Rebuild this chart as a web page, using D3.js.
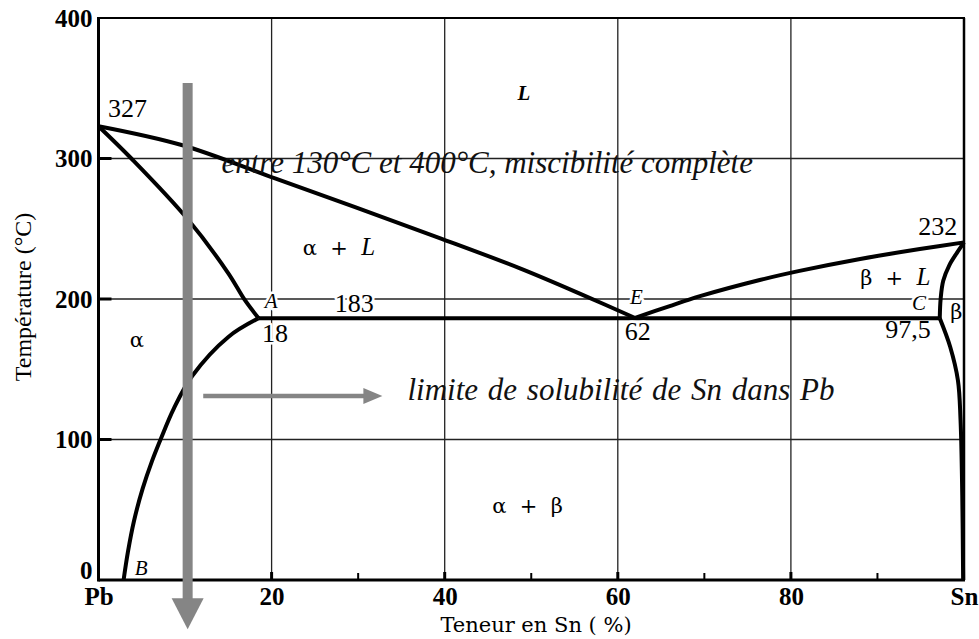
<!DOCTYPE html>
<html>
<head>
<meta charset="utf-8">
<script src="https://cdn.jsdelivr.net/npm/d3@7"></script>
<style>
  body { margin: 0; background: #fff; }
  svg { display: block; }
  .tick-lbl { font-family: "Liberation Serif", serif; font-size: 25px; font-weight: bold; fill: #000; }
  .num { font-family: "Liberation Serif", serif; font-size: 26px; fill: #000; }
  .pt { font-family: "Liberation Serif", serif; font-style: italic; font-size: 21px; fill: #000; }
  .phase { font-family: "DejaVu Serif", serif; font-size: 21px; fill: #000; }
  .it { font-family: "Liberation Serif", serif; font-style: italic; font-size: 25px; }
  .note { font-family: "Liberation Serif", serif; font-style: italic; font-size: 31px; fill: #111; }
  .halo { stroke: #fff; stroke-width: 5px; paint-order: stroke; stroke-linejoin: round; }
</style>
</head>
<body>
<svg id="chart" width="979" height="639"></svg>
<script>
// axes / ticks
const xTickValues = [0, 20, 40, 60, 80, 100];
const xTickLabels = ["Pb", "20", "40", "60", "80", "Sn"];
const xMinorTicks = [10, 30, 50, 70, 90];
const yTickValues = [0, 100, 200, 300, 400];
const gridX = [20, 40, 60, 80];
const gridY = [100, 200, 300];

// phase boundaries, [% Sn, °C] as drawn
const liquidusPb = [[0, 323], [9.6, 309.6], [20.4, 285.9], [39.5, 243.2], [48.7, 221.8], [56, 202.8], [62, 186.5]];
const liquidusSn = [[62, 186.5], [66, 195], [69.5, 202], [76.4, 213.5], [81, 220], [88, 228.5], [94.9, 235.6], [100, 240.3]];
const solidusAlpha = [[0, 323], [3.8, 300], [10.2, 257.6], [15, 218.3], [16.9, 199.3], [18.5, 186.3]];
const solvusAlpha = [[18.5, 186.3], [15, 173], [10.8, 145], [8.7, 122], [7.3, 102], [6.2, 85], [5.1, 65], [4.1, 42], [3.4, 20], [2.9, 0]];
const solidusBeta = [[100, 240.3], [99.2, 233], [98.3, 224], [97.6, 213], [97.3, 200], [97.2, 186.3]];
const solvusBeta = [[97.2, 186.3], [98.4, 166], [99.3, 142], [99.6, 114], [99.8, 60], [99.9, 0]];
const eutectic = [[18.5, 186.3], [97.2, 186.3]];

const svg = d3.select("#chart");
const x = d3.scaleLinear().domain([0, 100]).range([98.5, 964]);
const y = d3.scaleLinear().domain([0, 400]).range([580, 18]);

// grid
svg.append("g").selectAll("line").data(gridX).join("line")
  .attr("x1", d => x(d)).attr("x2", d => x(d)).attr("y1", y(400)).attr("y2", y(0))
  .attr("stroke", "#222").attr("stroke-width", 1.3);
svg.append("g").selectAll("line").data(gridY).join("line")
  .attr("x1", x(0)).attr("x2", x(100)).attr("y1", d => y(d)).attr("y2", d => y(d))
  .attr("stroke", "#222").attr("stroke-width", 1.3);

// tick stubs
svg.append("g").selectAll("line").data(yTickValues.slice(1, 4)).join("line")
  .attr("x1", x(0)).attr("x2", x(0) + 13).attr("y1", d => y(d)).attr("y2", d => y(d))
  .attr("stroke", "#000").attr("stroke-width", 3);
svg.append("g").selectAll("line").data(gridX).join("line")
  .attr("x1", d => x(d)).attr("x2", d => x(d)).attr("y1", y(0)).attr("y2", y(0) - 8)
  .attr("stroke", "#000").attr("stroke-width", 3);
svg.append("g").selectAll("line").data(xMinorTicks).join("line")
  .attr("x1", d => x(d)).attr("x2", d => x(d)).attr("y1", y(0)).attr("y2", y(0) - 7)
  .attr("stroke", "#000").attr("stroke-width", 2);

// frame
svg.append("line").attr("x1", x(0)).attr("x2", x(0)).attr("y1", y(400) - 1).attr("y2", y(0) + 1.5).attr("stroke", "#000").attr("stroke-width", 3);
svg.append("line").attr("x1", x(0)).attr("x2", x(100) + 1).attr("y1", y(0)).attr("y2", y(0)).attr("stroke", "#000").attr("stroke-width", 3);
svg.append("line").attr("x1", x(0)).attr("x2", x(100) + 1).attr("y1", y(400)).attr("y2", y(400)).attr("stroke", "#000").attr("stroke-width", 2);
svg.append("line").attr("x1", x(100)).attr("x2", x(100)).attr("y1", y(400)).attr("y2", y(0)).attr("stroke", "#000").attr("stroke-width", 2.5);

// axes labels
const xAxis = svg.append("g").attr("transform", `translate(0,${y(0)})`)
  .call(d3.axisBottom(x).tickValues(xTickValues).tickFormat((d, i) => xTickLabels[i]).tickSize(0).tickPadding(7));
xAxis.select(".domain").remove();
xAxis.selectAll("text").attr("class", "tick-lbl").attr("font-size", null).attr("font-family", null);

const yAxis = svg.append("g").attr("transform", `translate(${x(0)},0)`)
  .call(d3.axisLeft(y).tickValues(yTickValues).tickSize(0).tickPadding(6));
yAxis.select(".domain").remove();
yAxis.selectAll("text").attr("class", "tick-lbl").attr("font-size", null).attr("font-family", null);
yAxis.selectAll("text").filter(d => d === 0).attr("dy", "-0.05em");

svg.append("text").attr("class", "phase").attr("font-size", 20.5)
  .attr("x", 536).attr("y", 632).attr("text-anchor", "middle").text("Teneur en Sn ( %)");
svg.append("text").attr("font-family", "Liberation Serif").attr("font-size", 24)
  .attr("transform", "translate(31,297) rotate(-90)").attr("text-anchor", "middle").text("Température (°C)");

// phase boundaries
const line = d3.line().x(d => x(d[0])).y(d => y(d[1])).curve(d3.curveCatmullRom.alpha(0.5));
[liquidusPb, liquidusSn, solidusAlpha, solvusAlpha, solidusBeta, solvusBeta, eutectic].forEach(pts => {
  svg.append("path").attr("d", line(pts)).attr("fill", "none")
    .attr("stroke", "#000").attr("stroke-width", 4).attr("stroke-linejoin", "round");
});

// labels
function label(txt, xv, tv, cls, extra) {
  const t = svg.append("text").attr("class", cls).attr("x", x(xv)).attr("y", y(tv)).text(txt);
  if (extra) extra(t);
  return t;
}
function phaseL(greek, xv, tv) {
  const t = svg.append("text").attr("class", "phase").attr("x", x(xv)).attr("y", y(tv)).attr("xml:space", "preserve");
  t.append("tspan").text(greek + "  +  ");
  t.append("tspan").attr("class", "it").text("L");
  return t;
}
label("L", 48.4, 341.6, "pt", t => t.attr("font-weight", "bold").attr("font-size", 23));
label("327", 1.1, 329.5, "num");
phaseL("α", 23.6, 231.3);
label("A", 19.2, 193.6, "pt halo", t => t.attr("font-size", 20));
label("183", 27.3, 190.7, "num halo");
label("18", 18.9, 169.4, "num halo");
label("E", 61.4, 196.4, "pt halo", t => t.attr("font-size", 20));
label("62", 60.8, 170.8, "num halo");
label("232", 94.7, 245.6, "num");
phaseL("β", 88, 210);
label("C", 94, 192.2, "pt halo", t => t.attr("font-size", 22));
label("β", 98.4, 185.5, "phase");
label("97,5", 90.9, 172.2, "num");
label("α", 3.6, 165.8, "phase");
label("α  +  β", 45.5, 47.7, "phase", t => t.attr("xml:space", "preserve"));
label("B", 4.2, 3.6, "pt", t => t.attr("font-size", 20));

// annotations
label("entre 130°C et 400°C, miscibilité complète", 14.2, 289.5, "note");
label("limite de solubilité de Sn dans Pb", 35.7, 128, "note", t => t.attr("word-spacing", 2));

// grey arrows
const grey = "#858585";
const vx = x(10.3), vTop = y(353.7), vTip = y(-35);
svg.append("line").attr("x1", vx).attr("x2", vx).attr("y1", vTop).attr("y2", vTip - 30)
  .attr("stroke", grey).attr("stroke-width", 10);
svg.append("path").attr("fill", grey)
  .attr("d", `M${vx - 16},${vTip - 31} L${vx + 16},${vTip - 31} L${vx},${vTip} Z`);

const hy = y(131), hx0 = x(12.1), hx1 = x(32.8);
svg.append("line").attr("x1", hx0).attr("x2", hx1 - 17).attr("y1", hy).attr("y2", hy)
  .attr("stroke", grey).attr("stroke-width", 4.5);
svg.append("path").attr("fill", grey)
  .attr("d", `M${hx1 - 19},${hy - 8} L${hx1},${hy} L${hx1 - 19},${hy + 8} Z`);
</script>
</body>
</html>
